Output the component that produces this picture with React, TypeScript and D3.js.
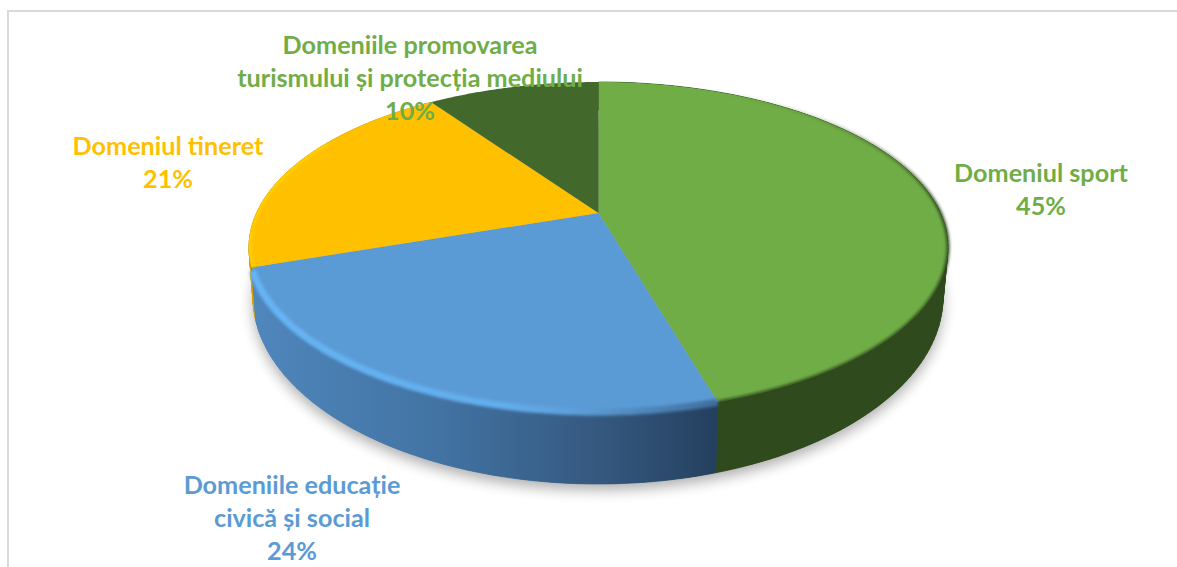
import React from 'react';
import { pie, line, range, curveLinear } from 'd3';

const width = 1177;
const height = 567;

const sliceNames = ['sport', 'educatie', 'tineret', 'turism'];
const sliceValues = [45.49, 24.31, 20.5, 9.7];
const topColors = ['#70AD47', '#5B9BD5', '#FFC000', '#43682B'];
const sideColors = ['#2F4A1C', 'url(#blueSide)', '#D9A300', '#2C451C'];
const labelColors = ['#70AD47', '#5B9BD5', '#FFC000', '#70AD47'];
const labelLines = [
  ['Domeniul sport'],
  ['Domeniile educație', 'civică și social'],
  ['Domeniul tineret'],
  ['Domeniile promovarea', 'turismului și protecția mediului'],
];
const labelX = [1041, 292, 168, 410];
const labelY = [182, 494, 155, 54];
const lineGap = 33;

// top face: a tilted disc, so the apex sits above the middle of the ellipse
const cx = 598.5;
const cy = 247;
const rx = 349.5;
const ry = 165;
const apexY = 213;
const persp = (apexY - 82 + apexY - 412) / (412 - 82); // -0.206
const yScale = 412 * (1 + persp) - apexY;
const flatR = rx * Math.sqrt(1 - persp * persp);

// bottom rim of the side wall
const bx = 598;
const by = 297;
const brx = 345;
const bry = 187;

const project = (a: number): [number, number] => {
  const u = Math.sin(a);
  const v = -Math.cos(a);
  const w = 1 + persp * v;
  return [cx + (flatR * u) / w, (yScale * v + apexY) / w];
};

const toBottom = ([x, y]: [number, number]): [number, number] => [
  bx + (brx * (x - cx)) / rx,
  by + (bry * (y - cy)) / ry,
];

const rim = (a0: number, a1: number) =>
  range(0, 121).map((i) => project(a0 + ((a1 - a0) * i) / 120));

const path = line().curve(curveLinear);

const slices = pie<number>().sort(null).value((d) => d)(sliceValues);
const total = sliceValues.reduce((s, v) => s + v, 0);

const App = () => {
  const all = rim(0, Math.PI * 2);
  const blue = slices[1];
  const green = slices[0];
  const yellow = slices[2];
  return (
    <svg
      width={width}
      height={height}
      style={{ position: 'absolute', left: 0, top: 0, background: '#fff' }}
      fontFamily="Lato, 'Noto Sans', sans-serif"
      fontWeight={700}
    >
      <defs>
        <filter id="soft" x="-10%" y="-10%" width="120%" height="120%">
          <feGaussianBlur stdDeviation="7" />
        </filter>
        <filter id="edge" x="-5%" y="-5%" width="110%" height="110%">
          <feGaussianBlur stdDeviation="1.8" />
        </filter>
        <linearGradient id="blueSide" gradientUnits="userSpaceOnUse" x1={255} x2={716} y1={0} y2={0}>
          <stop offset="0" stopColor="#4F86BC" />
          <stop offset="0.4" stopColor="#4273A3" />
          <stop offset="0.75" stopColor="#35587F" />
          <stop offset="1" stopColor="#24405F" />
        </linearGradient>
        <linearGradient id="blueRim" gradientUnits="userSpaceOnUse" x1={255} x2={716} y1={0} y2={0}>
          <stop offset="0" stopColor="#66B4F5" />
          <stop offset="0.55" stopColor="#62ADEC" />
          <stop offset="0.72" stopColor="#5B9BD5" />
          <stop offset="1" stopColor="#3F6F9C" />
        </linearGradient>
        <linearGradient id="greenRim" gradientUnits="userSpaceOnUse" x1={0} x2={0} y1={90} y2={210}>
          <stop offset="0" stopColor="#2F4A1C" stopOpacity={0} />
          <stop offset="1" stopColor="#2F4A1C" stopOpacity={1} />
        </linearGradient>
        <clipPath id="topClip">
          <path d={path(all) + 'Z'} />
        </clipPath>
      </defs>

      <path d="M8,567V11H1177" fill="none" stroke="#D9D9D9" strokeWidth={2} />

      <path
        d={path(all.map(toBottom).map(([x, y]) => [x, y + 6])) + 'Z'}
        fill="#000"
        opacity={0.32}
        filter="url(#soft)"
      />

      {[2, 0, 1].map((i) => {
        const top = rim(slices[i].startAngle, slices[i].endAngle);
        // the quads fill the tangent at the widest point, the polygon on top hides their seams
        return (
          <g key={sliceNames[i]} fill={sideColors[i]}>
            {top.slice(1).map((p, j) => (
              <path
                key={j}
                d={path([top[j], p, toBottom(p), toBottom(top[j])]) + 'Z'}
                stroke={sideColors[i]}
                strokeWidth={0.7}
              />
            ))}
            <path d={path([...top, ...top.map(toBottom).reverse()]) + 'Z'} />
          </g>
        );
      })}

      {slices.map((s, i) => (
        <path
          key={sliceNames[i]}
          d={path([[cx, apexY], ...rim(s.startAngle, s.endAngle)]) + 'Z'}
          fill={topColors[i]}
        />
      ))}

      <path
        d={path(rim(green.startAngle + 0.3, green.endAngle)) ?? ''}
        fill="none"
        stroke="url(#greenRim)"
        strokeWidth={3}
        filter="url(#edge)"
      />
      <path
        d={path(rim(blue.startAngle, blue.endAngle - 0.02)) ?? ''}
        fill="none"
        stroke="url(#blueRim)"
        strokeWidth={7}
        filter="url(#edge)"
      />
      <g clipPath="url(#topClip)">
        <path
          d={path(rim(yellow.startAngle, yellow.endAngle - 0.45)) ?? ''}
          fill="none"
          stroke="#FFD000"
          strokeWidth={5}
          filter="url(#edge)"
        />
      </g>

      {sliceValues.map((v, i) => {
        const rows = [...labelLines[i], `${Math.round((v / total) * 100)}%`];
        return (
          <text
            key={sliceNames[i]}
            fill={labelColors[i]}
            fontSize={25.2}
            textAnchor="middle"
            x={labelX[i]}
            y={labelY[i]}
          >
            {rows.map((row, j) => (
              <tspan key={j} x={labelX[i]} y={labelY[i] + j * lineGap}>
                {row}
              </tspan>
            ))}
          </text>
        );
      })}
    </svg>
  );
};

export default App;
